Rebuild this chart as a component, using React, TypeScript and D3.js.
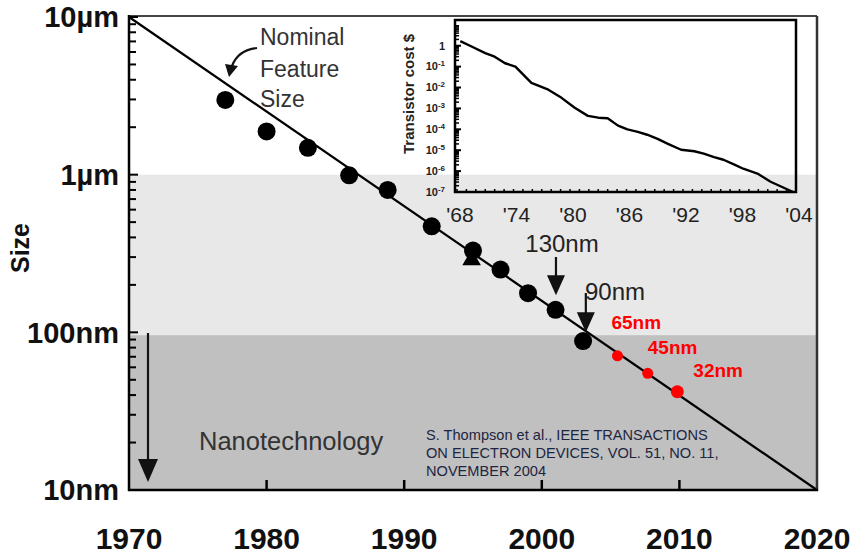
import React from 'react';
import * as d3 from 'd3';

// main chart: feature size (nm) per year
const dotYears = [1977, 1980, 1983, 1986, 1988.8, 1992, 1995, 1997, 1999, 2001, 2003];
const dotSizes = [2980, 1880, 1480, 990, 800, 470, 330, 250, 177, 139, 88];
const triYear = 1994.9;
const triSize = 288;
const redYears = [2005.5, 2007.7, 2009.85];
const redSizes = [71, 55, 42];
const redLabels = ['65nm', '45nm', '32nm'];
const trendYears = [1970, 2020];
const trendSizes = [10000, 10];

const xTicks = [1970, 1980, 1990, 2000, 2010, 2020];
const yTicks = [10000, 1000, 100, 10];
const yTickLabels = ['10\u00b5m', '1\u00b5m', '100nm', '10nm'];
const bandTops = [1000, 96];
const bandBottoms = [96, 10];
const bandFills = ['#e8e8e8', '#c0c0c0'];

// inset: transistor cost ($)
const costYears = [1968.35, 1969.6, 1971.0, 1972.0, 1973.1, 1974.2, 1975.9, 1977.7, 1979.1, 1980.5,
  1981.9, 1983.0, 1984.0, 1985.1, 1986.1, 1987.2, 1988.2, 1989.3, 1990.4, 1991.8, 1993.2, 1994.2,
  1995.3, 1996.3, 1997.4, 1998.4, 1999.9, 2001.3, 2002.7, 2003.7];
const costValues = [1.66, 0.89, 0.44, 0.3, 0.145, 0.1, 0.0166, 0.0079, 0.0032, 0.00107,
  4.4e-4, 3.6e-4, 3.4e-4, 1.5e-4, 1.0e-4, 7.6e-5, 5.5e-5, 3.5e-5, 2.0e-5, 1.05e-5, 8.9e-6, 6.8e-6,
  4.7e-6, 3.5e-6, 2.1e-6, 1.3e-6, 7.6e-7, 3.1e-7, 1.6e-7, 1.0e-7];
const insetXTicks = [1968, 1974, 1980, 1986, 1992, 1998, 2004];
const insetXLabels = ["'68", "'74", "'80", "'86", "'92", "'98", "'04"];
const insetYTicks = [1, 1e-1, 1e-2, 1e-3, 1e-4, 1e-5, 1e-6, 1e-7];
const insetYExps = ['', '-1', '-2', '-3', '-4', '-5', '-6', '-7'];

const citation = [
  'S. Thompson et al., IEEE TRANSACTIONS',
  'ON ELECTRON DEVICES, VOL. 51, NO. 11,',
  'NOVEMBER 2004',
];

const font = '"Liberation Sans", Arial, sans-serif';

export default function App() {
  const x = d3.scaleLinear().domain([1970, 2020]).range([129, 817]);
  const y = d3.scaleLog().domain([10, 10000]).range([490, 17]);

  const ix = d3.scaleLinear().domain([1968, 2004]).range([457, 796]);
  const iy = d3.scaleLog().domain([1e-7, 17]).range([192, 20]);

  const trend = d3.line<number>().x((d, i) => x(trendYears[i])).y(d => y(d))(trendSizes) || '';
  const costLine = d3.line<number>().x((d, i) => ix(costYears[i])).y(d => iy(d))(costValues) || '';

  const minor: number[] = [];
  [10, 100, 1000].forEach(d => { for (let k = 2; k <= 9; k++) minor.push(d * k); });
  const insetMinor: number[] = [];
  [1e-7, 1e-6, 1e-5, 1e-4, 1e-3, 1e-2, 1e-1, 1].forEach(d => { for (let k = 2; k <= 9; k++) if (d * k < 17) insetMinor.push(d * k); });
  const insetYears = d3.range(1968, 2005);

  const tri = d3.symbol().type(d3.symbolTriangle).size(150)() || '';

  // label offsets for the red nodes
  const redDx = [-6, 0, 16];
  const redDy = [-27, -19, -15];

  // arrow helper: vertical arrow with filled head
  const vArrow = (ax: number, top: number, tip: number, hh: number, hw: number, key: string) => (
    <g key={key}>
      <line x1={ax} x2={ax} y1={top} y2={tip - hh + 2} stroke="#111" strokeWidth={2.2} />
      <path d={`M${ax - hw},${tip - hh}L${ax + hw},${tip - hh}L${ax},${tip}Z`} fill="#111" />
    </g>
  );

  return (
    <svg width={854} height={557} style={{ position: 'absolute', left: 0, top: 0, background: '#fff' }} fontFamily={font}>
      {/* bands */}
      {bandTops.map((t, i) => (
        <rect key={i} x={x(1970)} width={x(2020) - x(1970)} y={y(t)} height={y(bandBottoms[i]) - y(t)} fill={bandFills[i]} />
      ))}

      {/* inset */}
      <g>
        <rect x={ix(1968) - 2} y={iy(17)} width={ix(2004) - ix(1968) + 2} height={iy(1e-7) - iy(17)} fill="none" stroke="#000" strokeWidth={2.5} />
        {insetMinor.map((v, i) => (
          <line key={'im' + i} x1={ix(1968) - 2} x2={ix(1968) + 2} y1={iy(v)} y2={iy(v)} stroke="#000" strokeWidth={1.5} />
        ))}
        {insetYTicks.map((v, i) => (
          <line key={'iM' + i} x1={ix(1968) - 2} x2={ix(1968) + 4} y1={iy(v)} y2={iy(v)} stroke="#000" strokeWidth={2} />
        ))}
        {insetYears.map(yr => (
          <line key={'ix' + yr} x1={ix(yr)} x2={ix(yr)} y1={iy(1e-7)} y2={iy(1e-7) - 3} stroke="#000" strokeWidth={1.5} />
        ))}
        <path d={costLine} fill="none" stroke="#000" strokeWidth={2.4} strokeLinejoin="round" />
        {insetYTicks.map((v, i) => (
          <text key={'iyl' + i} x={445} y={iy(v)} dy="0.35em" textAnchor="end" fontSize={11} fill="#222" fontWeight="bold">
            {i === 0 ? '1' : '10'}
            {i > 0 && <tspan fontSize={8} dy="-4">{insetYExps[i]}</tspan>}
          </text>
        ))}
        {insetXTicks.map((v, i) => (
          <text key={'ixl' + i} x={ix(v) + 3} y={222} textAnchor="middle" fontSize={21} fill="#222">{insetXLabels[i]}</text>
        ))}
        <text transform="translate(414,94) rotate(-90)" textAnchor="middle" fontSize={15} fontWeight="bold" fill="#222">Transistor cost $</text>
      </g>

      {/* trend line */}
      <path d={trend} fill="none" stroke="#000" strokeWidth={2.2} />

      {/* points */}
      {dotYears.map((yr, i) => (
        <circle key={'d' + i} cx={x(yr)} cy={y(dotSizes[i])} r={9} fill="#000" />
      ))}
      <path d={tri} transform={`translate(${x(triYear)},${y(triSize)})`} fill="#000" />
      {redYears.map((yr, i) => (
        <circle key={'r' + i} cx={x(yr)} cy={y(redSizes[i])} r={i === 2 ? 6.5 : 5.5} fill="#f00" />
      ))}
      {redLabels.map((t, i) => (
        <text key={'rl' + i} x={x(redYears[i]) + redDx[i]} y={y(redSizes[i]) + redDy[i]} fontSize={19} fontWeight="bold" fill="#f00">{t}</text>
      ))}

      {/* frame */}
      <line x1={129} x2={817} y1={16} y2={16} stroke="#444" strokeWidth={2} />
      <line x1={817} x2={817} y1={16} y2={491} stroke="#333" strokeWidth={2.5} />
      <line x1={129} x2={129} y1={15} y2={491} stroke="#000" strokeWidth={2.5} />
      <line x1={128} x2={818} y1={490} y2={490} stroke="#000" strokeWidth={2.5} />
      {minor.map((v, i) => (
        <line key={'m' + i} x1={129} x2={136} y1={y(v)} y2={y(v)} stroke="#000" strokeWidth={2} />
      ))}
      {yTicks.map((v, i) => (
        <line key={'M' + i} x1={129} x2={138} y1={y(v)} y2={y(v)} stroke="#000" strokeWidth={2} />
      ))}
      {xTicks.slice(1, -1).map(v => (
        <line key={'xt' + v} x1={x(v)} x2={x(v)} y1={490} y2={480} stroke="#000" strokeWidth={2.5} />
      ))}

      {/* axis labels */}
      {yTicks.map((v, i) => (
        <text key={'yl' + i} x={119} y={y(v)} dy="0.36em" textAnchor="end" fontSize={29} fontWeight="bold" fill="#111">{yTickLabels[i]}</text>
      ))}
      {xTicks.map(v => (
        <text key={'xl' + v} x={x(v)} y={549} textAnchor="middle" fontSize={30} fontWeight="bold" fill="#111">{v}</text>
      ))}
      <text transform="translate(29,248) rotate(-90)" textAnchor="middle" fontSize={25} fontWeight="bold" fill="#111">Size</text>

      {/* annotations */}
      <text x={260} fontSize={23} fill="#333">
        <tspan x={260} y={45}>Nominal</tspan>
        <tspan x={260} y={77}>Feature</tspan>
        <tspan x={260} y={107}>Size</tspan>
      </text>
      <path d="M257,48 Q238,50 232,66" fill="none" stroke="#111" strokeWidth={2.2} />
      <path d="M225,64 L238,66 L229,77 Z" fill="#111" />

      <text x={562} y={252} textAnchor="middle" fontSize={24} fill="#222">130nm</text>
      {vArrow(x(2001.03), 257, y(172), 20, 9, 'a130')}
      <text x={585} y={300} fontSize={24} fill="#222">90nm</text>
      {vArrow(x(2003.2), 293, y(100), 20, 9, 'a90')}

      {vArrow(148, 333, 482, 23, 10, 'anano')}
      <text x={199} y={450} fontSize={25.5} fill="#333">Nanotechnology</text>

      {citation.map((c, i) => (
        <text key={'c' + i} x={426} y={440 + i * 18} fontSize={14.6} fill="#1d2540">{c}</text>
      ))}
    </svg>
  );
}
